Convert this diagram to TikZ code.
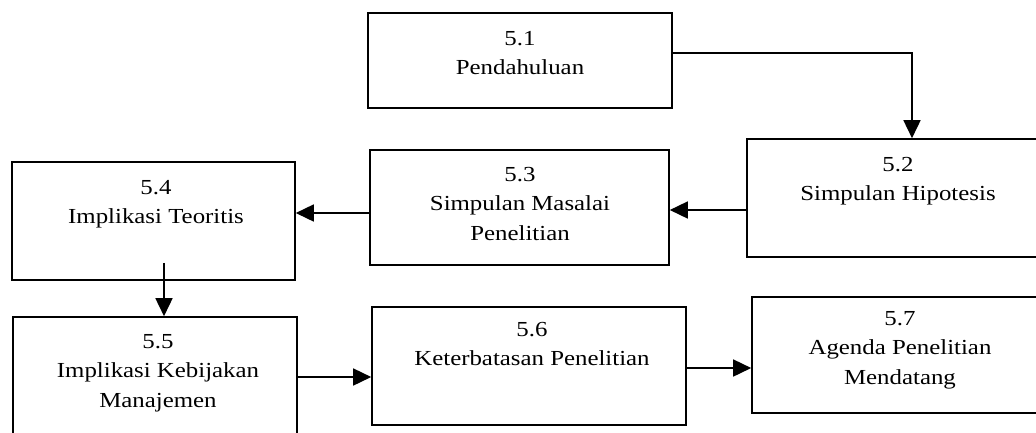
\documentclass[tikz,border=0pt]{standalone}
\usepackage{fontspec}
\setmainfont{Liberation Serif}[FakeStretch=1.16]
\usetikzlibrary{arrows.meta}
\begin{document}
\begin{tikzpicture}[x=1bp,y=-1bp,
  box/.style={draw, line width=1.6bp, rectangle, inner sep=0pt},
  lbl/.style={align=center, font=\fontsize{21.5}{29.5}\selectfont, inner sep=0pt},
  arr/.style={line width=1.6bp, -{Triangle[length=18bp,width=17bp]}}]
\useasboundingbox (0,0) rectangle (1036,432);
\clip (0,0) rectangle (1036,432);

% chapter section boxes
\node[box, minimum width=304bp, minimum height=95bp]  (b1) at (520,60.5) {};
\node[box, minimum width=298bp, minimum height=118bp] (b2) at (896,198) {};
\node[box, minimum width=299bp, minimum height=115bp] (b3) at (519.5,207.5) {};
\node[box, minimum width=283bp, minimum height=118bp] (b4) at (153.5,221) {};
\node[box, minimum width=284bp, minimum height=128bp] (b5) at (155,381) {};
\node[box, minimum width=314bp, minimum height=118bp] (b6) at (529,366) {};
\node[box, minimum width=293bp, minimum height=116bp] (b7) at (898.5,355) {};

% section titles
\node[lbl] (t1) at (520,53)  {5.1\\Pendahuluan};
\node[lbl] (t2) at (898,181) {5.2\\Simpulan Hipotesis};
\node[lbl] (t3) at (520,204) {5.3\\Simpulan Masalai\\Penelitian};
\node[lbl] (t4) at (156,204) {5.4\\Implikasi Teoritis};
\node[lbl] (t5) at (158,373) {5.5\\Implikasi Kebijakan\\Manajemen};
\node[lbl] (t6) at (532,344) {5.6\\Keterbatasan Penelitian};
\node[lbl] (t7) at (900,350) {5.7\\Agenda Penelitian\\Mendatang};

% flow between sections
\draw[arr] ([yshift=7.5bp]b1.east) -| ([xshift=16bp]b2.north);
\draw[arr] ([yshift=-12bp]b2.west) -- ([yshift=-12bp]b2.west -| b3.east);
\draw[arr] ([yshift=-5.5bp]b3.west) -- ([yshift=-5.5bp]b3.west -| b4.east);
\draw[arr] ([xshift=10.5bp,yshift=18bp]b4.south) -- ([xshift=10.5bp]b4.south |- b5.north);
\draw[arr] ([yshift=4bp]b5.east) -- ([yshift=4bp]b5.east -| b6.west);
\draw[arr] ([yshift=-2bp]b6.east) -- ([yshift=-2bp]b6.east -| b7.west);
\end{tikzpicture}
\end{document}
